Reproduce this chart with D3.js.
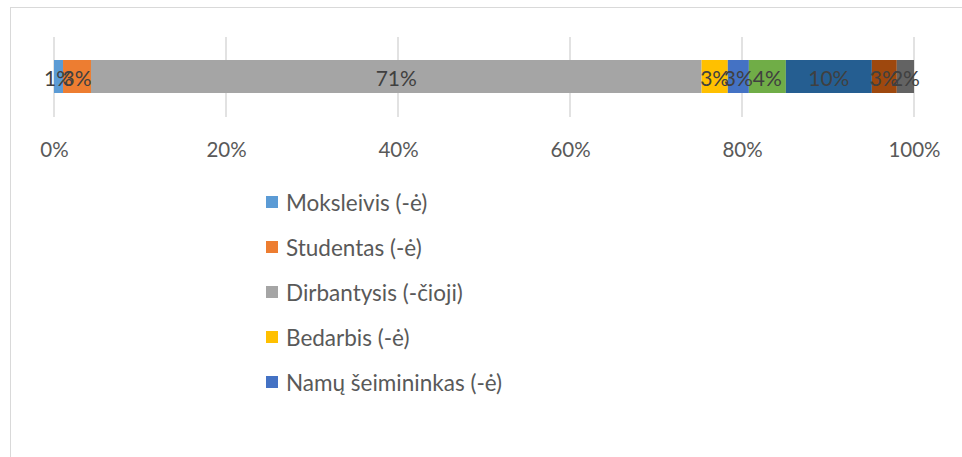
<!DOCTYPE html>
<html>
<head>
<meta charset="utf-8">
<script src="https://cdn.jsdelivr.net/npm/d3@7"></script>
<style>
  html, body { margin: 0; padding: 0; background: #fff; }
  svg { display: block; font-family: Lato, "Open Sans", sans-serif; }
</style>
</head>
<body>
<svg id="chart" width="962" height="457"></svg>
<script>
// 100% stacked bar, one row, Excel-style palette.
const seriesNames = [
  "Moksleivis (-ė)", "Studentas (-ė)", "Dirbantysis (-čioji)", "Bedarbis (-ė)",
  "Namų šeimininkas (-ė)", "Pensininkas (-ė)", "Verslininkas (-ė)", "Bedarbis ieškantis darbo", "Kita"
];
const seriesValues = [1.05, 3.25, 71.0, 3.05, 2.45, 4.3, 10.0, 2.9, 2.0];
const seriesLabels = ["1%", "3%", "71%", "3%", "3%", "4%", "10%", "3%", "2%"];
const seriesColors = ["#5b9bd5", "#ed7d31", "#a5a5a5", "#ffc000", "#4472c4", "#70ad47", "#255e91", "#9e480e", "#636363"];
const tickValues = [0, 0.2, 0.4, 0.6, 0.8, 1];
const tickLabels = ["0%", "20%", "40%", "60%", "80%", "100%"];
const legendShown = 5; // legend box is cut off after the fifth entry

const svg = d3.select("#chart");

// chart frame (runs off the right and bottom edges)
svg.append("rect")
  .attr("x", 10.5).attr("y", 7.5).attr("width", 1000).attr("height", 500)
  .attr("fill", "none").attr("stroke", "#d9d9d9").attr("stroke-width", 1);

const x = d3.scaleLinear().domain([0, 1]).range([54, 914]);
const total = d3.sum(seriesValues);

// gridlines
svg.append("g").selectAll("line")
  .data(tickValues)
  .join("line")
  .attr("x1", (d) => x(d)).attr("x2", (d) => x(d))
  .attr("y1", 37).attr("y2", 117)
  .attr("stroke", "#d9d9d9").attr("stroke-width", 1.5);

// stacked segments
let acc = 0;
const segs = seriesValues.map((v, i) => {
  const s = { i, x0: acc / total, x1: (acc + v) / total };
  acc += v;
  return s;
});

svg.append("g").selectAll("rect")
  .data(segs)
  .join("rect")
  .attr("x", (d) => x(d.x0))
  .attr("width", (d) => x(d.x1) - x(d.x0))
  .attr("y", 60).attr("height", 33)
  .attr("fill", (d) => seriesColors[d.i]);

svg.append("g").selectAll("text")
  .data(segs)
  .join("text")
  .attr("x", (d) => (x(d.x0) + x(d.x1)) / 2)
  .attr("y", 77)
  .attr("text-anchor", "middle")
  .attr("dominant-baseline", "central")
  .attr("font-size", 21)
  .attr("fill", "#404040")
  .text((d) => seriesLabels[d.i]);

// axis labels
const axis = d3.axisBottom(x).tickValues(tickValues).tickFormat((d, i) => tickLabels[i]).tickSize(0);
const ag = svg.append("g").attr("transform", "translate(0,139)").call(axis);
ag.select(".domain").remove();
ag.selectAll("text").attr("font-size", 20.5).attr("fill", "#595959").attr("font-family", "Lato, sans-serif");

// legend
const lg = svg.append("g").selectAll("g")
  .data(seriesNames.slice(0, legendShown))
  .join("g")
  .attr("transform", (d, i) => `translate(266,${202 + i * 45})`);
lg.append("rect").attr("x", 0).attr("y", -6).attr("width", 12).attr("height", 12)
  .attr("fill", (d, i) => seriesColors[i]);
lg.append("text").attr("x", 20).attr("y", 0)
  .attr("dominant-baseline", "central")
  .attr("font-size", 22.5).attr("fill", "#595959")
  .text((d) => d);
</script>
</body>
</html>
